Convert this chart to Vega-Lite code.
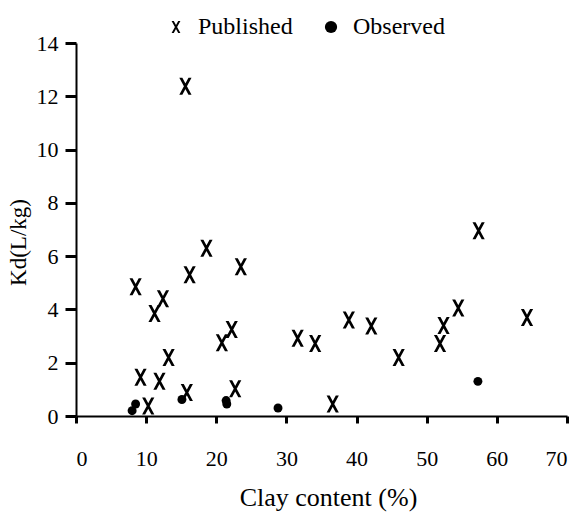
{
  "$schema": "https://vega.github.io/schema/vega-lite/v6.json",
  "width": 491,
  "height": 373,
  "autosize": {"type": "none"},
  "padding": {"left": 76, "top": 43, "right": 16, "bottom": 98},
  "background": "white",
  "config": {
    "view": {"stroke": null},
    "font": "Liberation Serif",
    "mark": {"color": "black"},
    "axis": {"grid": false, "ticks": true, "domainColor": "black", "domainWidth": 2, "tickColor": "black", "tickWidth": 3, "tickOpacity": 1, "labelColor": "black", "titleColor": "black", "labelFont": "Liberation Serif", "titleFont": "Liberation Serif", "titleFontWeight": "normal", "labelFontSize": 22, "titleFontSize": 26},
    "legend": {"labelFont": "Liberation Serif", "labelFontSize": 24, "labelColor": "black", "symbolSize": 150, "symbolFillColor": "black", "symbolOpacity": 1, "columnPadding": 26, "labelOffset": 10}
  },
  "data": {
    "values": [
      {"clay": 15.6, "kd": 12.38, "type": "Published"},
      {"clay": 18.6, "kd": 6.3, "type": "Published"},
      {"clay": 23.5, "kd": 5.6, "type": "Published"},
      {"clay": 16.2, "kd": 5.3, "type": "Published"},
      {"clay": 8.5, "kd": 4.85, "type": "Published"},
      {"clay": 12.4, "kd": 4.4, "type": "Published"},
      {"clay": 11.2, "kd": 3.85, "type": "Published"},
      {"clay": 22.2, "kd": 3.25, "type": "Published"},
      {"clay": 20.8, "kd": 2.75, "type": "Published"},
      {"clay": 13.2, "kd": 2.2, "type": "Published"},
      {"clay": 9.2, "kd": 1.45, "type": "Published"},
      {"clay": 11.9, "kd": 1.3, "type": "Published"},
      {"clay": 15.8, "kd": 0.88, "type": "Published"},
      {"clay": 22.7, "kd": 1.02, "type": "Published"},
      {"clay": 10.3, "kd": 0.38, "type": "Published"},
      {"clay": 36.6, "kd": 0.45, "type": "Published"},
      {"clay": 57.4, "kd": 6.95, "type": "Published"},
      {"clay": 54.5, "kd": 4.05, "type": "Published"},
      {"clay": 64.3, "kd": 3.7, "type": "Published"},
      {"clay": 38.9, "kd": 3.6, "type": "Published"},
      {"clay": 42.1, "kd": 3.38, "type": "Published"},
      {"clay": 52.4, "kd": 3.4, "type": "Published"},
      {"clay": 31.6, "kd": 2.92, "type": "Published"},
      {"clay": 34.1, "kd": 2.72, "type": "Published"},
      {"clay": 51.9, "kd": 2.72, "type": "Published"},
      {"clay": 46.0, "kd": 2.2, "type": "Published"},
      {"clay": 8.5, "kd": 0.45, "type": "Observed"},
      {"clay": 8.0, "kd": 0.2, "type": "Observed"},
      {"clay": 15.1, "kd": 0.62, "type": "Observed"},
      {"clay": 21.4, "kd": 0.58, "type": "Observed"},
      {"clay": 21.5, "kd": 0.45, "type": "Observed"},
      {"clay": 28.8, "kd": 0.3, "type": "Observed"},
      {"clay": 57.3, "kd": 1.3, "type": "Observed"}
    ]
  },
  "encoding": {
    "x": {"field": "clay", "type": "quantitative", "scale": {"domain": [0, 70], "nice": false},
      "axis": {"title": "Clay content (%)", "values": [0, 10, 20, 30, 40, 50, 60, 70], "tickSize": 7, "labelPadding": 25, "titlePadding": 15, "titleX": 252,
        "encode": {"ticks": {"update": {"y2": {"value": -7}}}}}},
    "y": {"field": "kd", "type": "quantitative", "scale": {"domain": [0, 14], "nice": false},
      "axis": {"title": "Kd(L/kg)", "values": [0, 2, 4, 6, 8, 10, 12, 14], "tickSize": 11, "labelPadding": 7, "titlePadding": 6, "titleFontSize": 23, "titleY": 199,
        "encode": {"ticks": {"update": {"x2": {"value": 11}}}}}},
    "shape": {"field": "type", "type": "nominal",
      "scale": {"domain": ["Published", "Observed"], "range": ["M-0.72,-1L-0.36,-1L0.72,1L0.36,1ZM0.36,-1L0.72,-1L-0.36,1L-0.72,1Z", "circle"]},
      "legend": {"title": null, "orient": "none", "direction": "horizontal", "legendX": 88, "legendY": -28}}
  },
  "layer": [
    {"transform": [{"filter": "datum.type === 'Published'"}],
     "mark": {"type": "point", "filled": true, "color": "black", "opacity": 1, "size": 289}},
    {"transform": [{"filter": "datum.type === 'Observed'"}],
     "mark": {"type": "point", "filled": true, "color": "black", "opacity": 1, "size": 80}}
  ]
}
